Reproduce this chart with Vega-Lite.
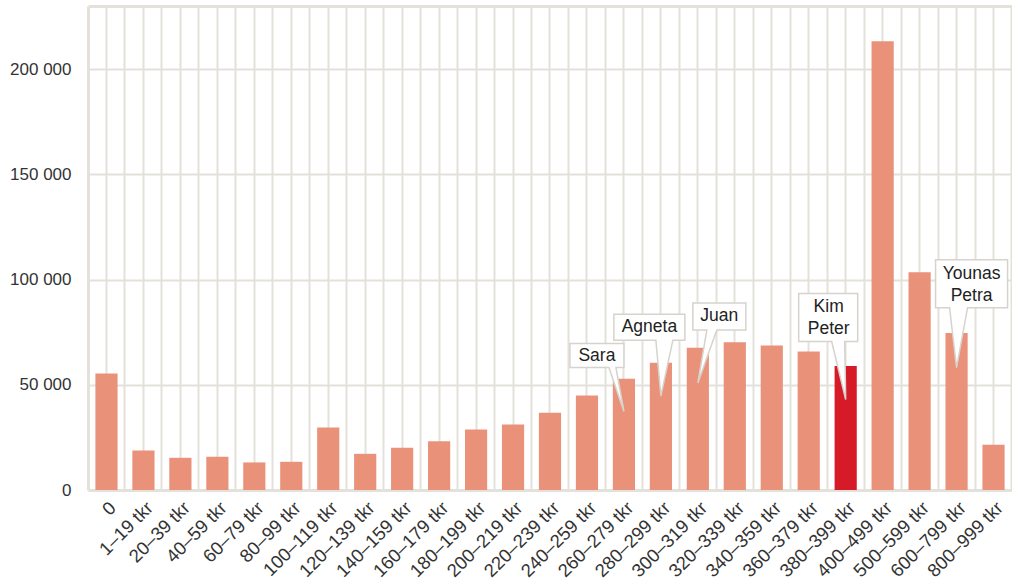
{
  "$schema": "https://vega.github.io/schema/vega-lite/v6.json",
  "autosize": {"type": "none"},
  "padding": {"left": 88, "top": 6, "right": 0, "bottom": 94},
  "width": 924,
  "height": 484,
  "background": "white",
  "config": {"view": {"stroke": null}, "font": "Liberation Sans"},
  "datasets": {
    "bars": [
      {"bracket": "0", "count": 55400},
      {"bracket": "1–19 tkr", "count": 18800},
      {"bracket": "20–39 tkr", "count": 15300},
      {"bracket": "40–59 tkr", "count": 15800},
      {"bracket": "60–79 tkr", "count": 13100},
      {"bracket": "80–99 tkr", "count": 13400},
      {"bracket": "100–119 tkr", "count": 29700},
      {"bracket": "120–139 tkr", "count": 17200},
      {"bracket": "140–159 tkr", "count": 20100},
      {"bracket": "160–179 tkr", "count": 23200},
      {"bracket": "180–199 tkr", "count": 28800},
      {"bracket": "200–219 tkr", "count": 31100},
      {"bracket": "220–239 tkr", "count": 36700},
      {"bracket": "240–259 tkr", "count": 44900},
      {"bracket": "260–279 tkr", "count": 52900},
      {"bracket": "280–299 tkr", "count": 60500},
      {"bracket": "300–319 tkr", "count": 67600},
      {"bracket": "320–339 tkr", "count": 70200},
      {"bracket": "340–359 tkr", "count": 68700},
      {"bracket": "360–379 tkr", "count": 65800},
      {"bracket": "380–399 tkr", "count": 58900},
      {"bracket": "400–499 tkr", "count": 213200},
      {"bracket": "500–599 tkr", "count": 103500},
      {"bracket": "600–799 tkr", "count": 74600},
      {"bracket": "800–999 tkr", "count": 21500}
    ],
    "callouts": [
      {"bracket": "260–279 tkr", "tip": 37300, "label": "Sara"},
      {"bracket": "280–299 tkr", "tip": 44600, "label": "Agneta"},
      {"bracket": "300–319 tkr", "tip": 50900, "label": "Juan"},
      {"bracket": "380–399 tkr", "tip": 43000, "label": "Kim\nPeter"},
      {"bracket": "600–799 tkr", "tip": 58100, "label": "Younas\nPetra"}
    ]
  },
  "layer": [
    {
      "data": {"name": "bars"},
      "mark": {"type": "bar"},
      "encoding": {
        "x": {
          "field": "bracket", "type": "nominal", "sort": null,
          "scale": {"paddingInner": 0.4, "paddingOuter": 0.2},
          "axis": {
            "orient": "bottom", "title": null, "labelAngle": -45, "labelFontSize": 18.5,
            "labelColor": "#333333", "ticks": false, "tickSize": 0, "labelPadding": 8,
            "domainColor": "#e4e1db", "domainWidth": 3,
            "grid": true, "gridColor": "#e4e1db", "gridWidth": 2
          }
        },
        "y": {
          "field": "count", "type": "quantitative",
          "scale": {"domain": [0, 230000], "nice": false},
          "axis": {
            "title": null, "values": [0, 50000, 100000, 150000, 200000],
            "labelExpr": "replace(format(datum.value, ','), ',', ' ')",
            "labelFontSize": 17, "labelColor": "#333333", "ticks": false, "tickSize": 0,
            "labelPadding": 17, "domainColor": "#e4e1db", "domainWidth": 3,
            "grid": true, "gridColor": "#e4e1db", "gridWidth": 2
          }
        },
        "color": {
          "condition": {"test": "datum.bracket === '380–399 tkr'", "value": "#d71a28"},
          "value": "#ea917a"
        }
      }
    },
    {
      "data": {"name": "callouts"},
      "transform": [{"filter": "datum.bracket === '260–279 tkr'"}],
      "mark": {"type": "point", "filled": true, "fill": "white", "fillOpacity": 1, "opacity": 1, "stroke": "#d6d3cc", "strokeWidth": 1.5, "size": 4,
        "shape": "M0,0L-8,-44L0,-44L0,-68L-54,-68L-54,-44L-15,-44Z"},
      "encoding": {
        "x": {"field": "bracket", "type": "nominal", "sort": null,
          "axis": {"orient": "top", "labels": false, "ticks": false, "tickSize": 0, "title": null,
            "domain": true, "domainColor": "#e4e1db", "domainWidth": 3,
            "grid": true, "gridColor": "#e4e1db", "gridWidth": 2, "bandPosition": 1.3333}},
        "y": {"field": "tip", "type": "quantitative", "axis": null}
      }
    },
    {
      "data": {"name": "callouts"},
      "transform": [{"filter": "datum.bracket === '260–279 tkr'"}],
      "mark": {"type": "text", "fontSize": 17.5, "color": "#222222", "align": "center", "baseline": "middle", "lineBreak": "\n", "lineHeight": 22, "dx": -27, "dy": -56},
      "encoding": {
        "x": {"field": "bracket", "type": "nominal", "sort": null, "axis": null},
        "y": {"field": "tip", "type": "quantitative", "axis": null},
        "text": {"field": "label"}
      }
    },
    {
      "data": {"name": "callouts"},
      "transform": [{"filter": "datum.bracket === '280–299 tkr'"}],
      "mark": {"type": "point", "filled": true, "fill": "white", "fillOpacity": 1, "opacity": 1, "stroke": "#d6d3cc", "strokeWidth": 1.5, "size": 4,
        "shape": "M0,0L12,-56L24,-56L24,-82L-47,-82L-47,-56L-5,-56Z"},
      "encoding": {
        "x": {"field": "bracket", "type": "nominal", "sort": null, "axis": null},
        "y": {"field": "tip", "type": "quantitative", "axis": null}
      }
    },
    {
      "data": {"name": "callouts"},
      "transform": [{"filter": "datum.bracket === '280–299 tkr'"}],
      "mark": {"type": "text", "fontSize": 17.5, "color": "#222222", "align": "center", "baseline": "middle", "lineBreak": "\n", "lineHeight": 22, "dx": -11.5, "dy": -69},
      "encoding": {
        "x": {"field": "bracket", "type": "nominal", "sort": null, "axis": null},
        "y": {"field": "tip", "type": "quantitative", "axis": null},
        "text": {"field": "label"}
      }
    },
    {
      "data": {"name": "callouts"},
      "transform": [{"filter": "datum.bracket === '300–319 tkr'"}],
      "mark": {"type": "point", "filled": true, "fill": "white", "fillOpacity": 1, "opacity": 1, "stroke": "#d6d3cc", "strokeWidth": 1.5, "size": 4,
        "shape": "M0,0L19,-53L48,-53L48,-80L-5,-80L-5,-53L9,-53Z"},
      "encoding": {
        "x": {"field": "bracket", "type": "nominal", "sort": null, "axis": null},
        "y": {"field": "tip", "type": "quantitative", "axis": null}
      }
    },
    {
      "data": {"name": "callouts"},
      "transform": [{"filter": "datum.bracket === '300–319 tkr'"}],
      "mark": {"type": "text", "fontSize": 17.5, "color": "#222222", "align": "center", "baseline": "middle", "lineBreak": "\n", "lineHeight": 22, "dx": 21.5, "dy": -66.5},
      "encoding": {
        "x": {"field": "bracket", "type": "nominal", "sort": null, "axis": null},
        "y": {"field": "tip", "type": "quantitative", "axis": null},
        "text": {"field": "label"}
      }
    },
    {
      "data": {"name": "callouts"},
      "transform": [{"filter": "datum.bracket === '380–399 tkr'"}],
      "mark": {"type": "point", "filled": true, "fill": "white", "fillOpacity": 1, "opacity": 1, "stroke": "#d6d3cc", "strokeWidth": 1.5, "size": 4,
        "shape": "M0,0L-1,-58L12,-58L12,-106L-47,-106L-47,-58L-14,-58Z"},
      "encoding": {
        "x": {"field": "bracket", "type": "nominal", "sort": null, "axis": null},
        "y": {"field": "tip", "type": "quantitative", "axis": null}
      }
    },
    {
      "data": {"name": "callouts"},
      "transform": [{"filter": "datum.bracket === '380–399 tkr'"}],
      "mark": {"type": "text", "fontSize": 17.5, "color": "#222222", "align": "center", "baseline": "middle", "lineBreak": "\n", "lineHeight": 22, "dx": -17, "dy": -93},
      "encoding": {
        "x": {"field": "bracket", "type": "nominal", "sort": null, "axis": null},
        "y": {"field": "tip", "type": "quantitative", "axis": null},
        "text": {"field": "label"}
      }
    },
    {
      "data": {"name": "callouts"},
      "transform": [{"filter": "datum.bracket === '600–799 tkr'"}],
      "mark": {"type": "point", "filled": true, "fill": "white", "fillOpacity": 1, "opacity": 1, "stroke": "#d6d3cc", "strokeWidth": 1.5, "size": 4,
        "shape": "M0,0L11,-60L51,-60L51,-108L-21,-108L-21,-60L-7,-60Z"},
      "encoding": {
        "x": {"field": "bracket", "type": "nominal", "sort": null, "axis": null},
        "y": {"field": "tip", "type": "quantitative", "axis": null}
      }
    },
    {
      "data": {"name": "callouts"},
      "transform": [{"filter": "datum.bracket === '600–799 tkr'"}],
      "mark": {"type": "text", "fontSize": 17.5, "color": "#222222", "align": "center", "baseline": "middle", "lineBreak": "\n", "lineHeight": 22, "dx": 15, "dy": -94},
      "encoding": {
        "x": {"field": "bracket", "type": "nominal", "sort": null, "axis": null},
        "y": {"field": "tip", "type": "quantitative", "axis": null},
        "text": {"field": "label"}
      }
    }
  ],
  "resolve": {"axis": {"x": "independent", "y": "independent"}}
}
